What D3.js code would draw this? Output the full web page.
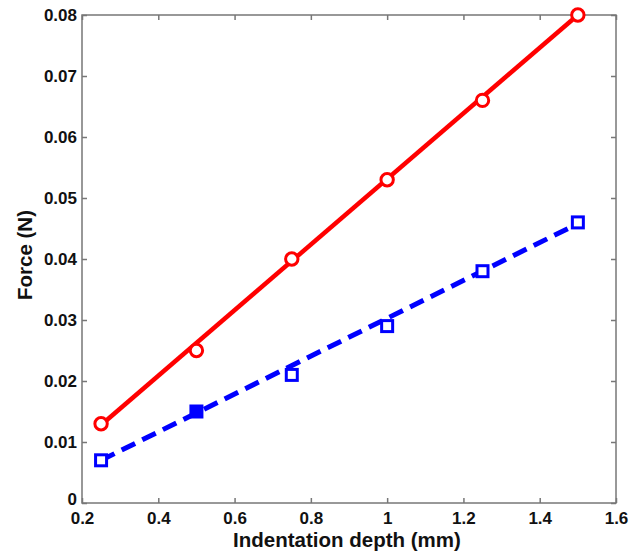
<!DOCTYPE html>
<html><head><meta charset="utf-8">
<script src="https://cdn.jsdelivr.net/npm/d3@7"></script>
<style>body{margin:0;background:#fff}svg{display:block}text{font-family:"Liberation Sans",Arial,sans-serif;font-weight:bold}</style>
</head><body>
<svg id="c" width="639" height="554"></svg>
<script>
const depth = [0.25, 0.5, 0.75, 1.0, 1.25, 1.5];
const forceA = [0.013, 0.025, 0.040, 0.053, 0.066, 0.080];
const forceB = [0.007, 0.015, 0.021, 0.029, 0.038, 0.046];
const fillB = [false, true, false, false, false, false];
const fitX = [0.25, 1.5];
const fitA = [0.0128, 0.0800];
const fitB = [0.0070, 0.0458];
const xTicks = [0.2, 0.4, 0.6, 0.8, 1, 1.2, 1.4, 1.6];
const yTicks = [0, 0.01, 0.02, 0.03, 0.04, 0.05, 0.06, 0.07, 0.08];

const svg = d3.select("#c");
const L = 82, R = 616, T = 15, B = 503;
const x = d3.scaleLinear().domain([0.2, 1.6]).range([L, R]);
const y = d3.scaleLinear().domain([0, 0.08]).range([B, T]);
const axCol = "#777";

// frame
svg.append("rect").attr("x", L).attr("y", T).attr("width", R - L).attr("height", B - T)
  .attr("fill", "none").attr("stroke", axCol).attr("stroke-width", 1.5);

const fmt = d => d3.format("")(+d.toFixed(2));
const gx = svg.append("g").attr("transform", `translate(0,${B})`)
  .call(d3.axisBottom(x).tickValues(xTicks).tickSize(-5).tickPadding(9).tickFormat(fmt));
const gxt = svg.append("g").attr("transform", `translate(0,${T})`)
  .call(d3.axisTop(x).tickValues(xTicks).tickSize(-5).tickFormat(""));
const gy = svg.append("g").attr("transform", `translate(${L},0)`)
  .call(d3.axisLeft(y).tickValues(yTicks).tickSize(-5).tickPadding(5).tickFormat(fmt));
const gyr = svg.append("g").attr("transform", `translate(${R},0)`)
  .call(d3.axisRight(y).tickValues(yTicks).tickSize(-5).tickFormat(""));
[gx, gxt, gy, gyr].forEach(g => {
  g.select(".domain").remove();
  g.selectAll("line").attr("stroke", axCol).attr("stroke-width", 1.5);
  g.selectAll("text").attr("fill", "#111").style("font-size", "17px").style("font-weight", "bold")
   .style("font-family", '"Liberation Sans",Arial,sans-serif');
});
gy.selectAll("text").attr("dy", d => d === 0 ? "0.1em" : "0.35em");

// lines
const line = d3.line().x(d => x(d[0])).y(d => y(d[1]));
svg.append("path").datum(fitX.map((v, i) => [v, fitA[i]])).attr("d", line)
  .attr("fill", "none").attr("stroke", "#ff0000").attr("stroke-width", 4.5);
svg.append("path").datum(fitX.map((v, i) => [v, fitB[i]])).attr("d", line)
  .attr("fill", "none").attr("stroke", "#0000ff").attr("stroke-width", 5)
  .attr("stroke-dasharray", "15,8");

// markers
svg.selectAll(".ca").data(depth).enter().append("circle")
  .attr("cx", d => x(d)).attr("cy", (d, i) => y(forceA[i])).attr("r", 6.2)
  .attr("fill", "#fff").attr("stroke", "#ff0000").attr("stroke-width", 3);
svg.selectAll(".sb").data(depth).enter().append("rect")
  .attr("x", d => x(d) - 5.5).attr("y", (d, i) => y(forceB[i]) - 5.5)
  .attr("width", 11).attr("height", 11)
  .attr("fill", (d, i) => fillB[i] ? "#0000ff" : "#fff")
  .attr("stroke", "#0000ff").attr("stroke-width", 3);

// labels
svg.append("text").attr("x", (L + R) / 2 - 2).attr("y", 547).attr("text-anchor", "middle")
  .style("font-size", "20.5px").attr("fill", "#111").text("Indentation depth (mm)");
svg.append("text").attr("transform", `translate(32,${(T + B) / 2 - 4}) rotate(-90)`)
  .attr("text-anchor", "middle").style("font-size", "20.5px").attr("fill", "#111").text("Force (N)");
</script>
</body></html>
